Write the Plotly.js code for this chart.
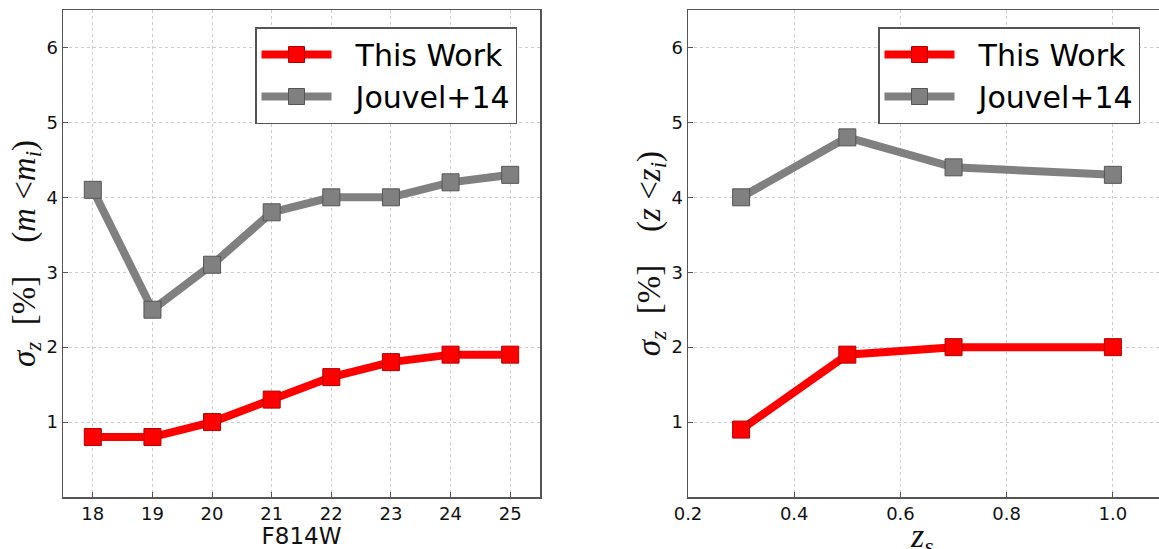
<!DOCTYPE html>
<html>
<head>
<meta charset="utf-8">
<script src="https://cdn.plot.ly/plotly-3.0.1.min.js"></script>
<style>
html,body{margin:0;padding:0;overflow:hidden;background:#fff;width:1159px;height:549px;}
#chart{width:1170px;height:549px;}
</style>
</head>
<body>
<div id="chart"></div>
<script>
// Left panel: sigma_z vs F814W magnitude cut
const magBins = [18, 19, 20, 21, 22, 23, 24, 25];
const magThisWork = [0.8, 0.8, 1.0, 1.3, 1.6, 1.8, 1.9, 1.9];
const magJouvel = [4.1, 2.5, 3.1, 3.8, 4.0, 4.0, 4.2, 4.3];

// Right panel: sigma_z vs redshift cut
const zBins = [0.3, 0.5, 0.7, 1.0];
const zThisWork = [0.9, 1.9, 2.0, 2.0];
const zJouvel = [4.0, 4.8, 4.4, 4.3];

const seriesNames = ["This Work", "Jouvel+14"];
const xTickVals1 = [18, 19, 20, 21, 22, 23, 24, 25];
const xTickVals2 = [0.2, 0.4, 0.6, 0.8, 1.0];
const xTickText2 = ["0.2", "0.4", "0.6", "0.8", "1.0"];
const yTickVals = [1, 2, 3, 4, 5, 6];

const RED = "#ff0000", GRAY = "#808080";
const PAD = "\u00a0\u00a0";

function tr(x, y, name, color, edge, xa, ya, leg) {
  return {
    x: x, y: y, name: PAD + name, type: "scatter", mode: "lines+markers",
    xaxis: xa, yaxis: ya, legend: leg,
    line: {color: color, width: 8},
    marker: {symbol: "square", size: 17, color: color, line: {color: edge, width: 1}},
    hoverinfo: "skip"
  };
}

const data = [
  tr(magBins, magThisWork, seriesNames[0], RED, "#b00000", "x", "y", "legend"),
  tr(magBins, magJouvel, seriesNames[1], GRAY, "#555555", "x", "y", "legend"),
  tr(zBins, zThisWork, seriesNames[0], RED, "#b00000", "x2", "y2", "legend2"),
  tr(zBins, zJouvel, seriesNames[1], GRAY, "#555555", "x2", "y2", "legend2")
];

const W = 1170;
const axisCommon = {
  showline: true, mirror: true, linecolor: "#555", linewidth: 1.5,
  showgrid: true, gridcolor: "#cccccc", griddash: "dot", gridwidth: 1,
  zeroline: false, ticks: "inside", ticklen: 5, tickcolor: "#555",
  tickfont: {family: "DejaVu Sans", size: 18, color: "#111"}
};
const legendCommon = {
  bgcolor: "#fff", bordercolor: "#555", borderwidth: 1.5,
  font: {family: "DejaVu Sans", size: 30, color: "#000"},
  xanchor: "left", yanchor: "top", itemwidth: 70, tracegroupgap: 0
};

const ytitle1 = "<i>σ</i><sub><i>z</i></sub>  [%]    (<i>m</i> &lt;<i>m</i><sub><i>i</i></sub>)";
const ytitle2 = "<i>σ</i><sub><i>z</i></sub>  [%]    (<i>z</i> &lt;<i>z</i><sub><i>i</i></sub>)";

const layout = {
  width: W, height: 549,
  margin: {l: 63, r: W - 1166, t: 10, b: 52},
  paper_bgcolor: "#fff", plot_bgcolor: "#fff",
  showlegend: true,
  xaxis: Object.assign({}, axisCommon, {
    domain: [0, 477 / 1103], range: [17.5, 25.5], tickvals: xTickVals1, anchor: "y",
    title: {text: "F814W", font: {family: "DejaVu Sans", size: 23, color: "#111"}, standoff: 0}
  }),
  yaxis: Object.assign({}, axisCommon, {
    range: [0, 6.5], tickvals: yTickVals, anchor: "x",
    title: {text: ytitle1, font: {family: "Liberation Serif", size: 33, color: "#111"}, standoff: 0}
  }),
  xaxis2: Object.assign({}, axisCommon, {
    domain: [625 / 1103, 1], range: [0.2, 1.1], tickvals: xTickVals2, ticktext: xTickText2, anchor: "y2"
  }),
  yaxis2: Object.assign({}, axisCommon, {
    range: [0, 6.5], tickvals: yTickVals, anchor: "x2",
    title: {text: ytitle2, font: {family: "Liberation Serif", size: 33, color: "#111"}, standoff: 0}
  }),
  annotations: [{
    text: "<i>z</i><sub><i>s</i></sub>", xref: "x2", x: 0.64, yref: "paper", y: -0.038,
    xanchor: "center", yanchor: "top", showarrow: false, borderpad: 0,
    font: {family: "Liberation Serif", size: 34, color: "#111"}
  }],
  legend: Object.assign({}, legendCommon, {x: (255 - 63) / 1103, y: (497 - 27) / 487}),
  legend2: Object.assign({}, legendCommon, {x: (878 - 63) / 1103, y: (497 - 27) / 487})
};

Plotly.newPlot("chart", data, layout, {displayModeBar: false, staticPlot: true});
</script>
</body>
</html>
